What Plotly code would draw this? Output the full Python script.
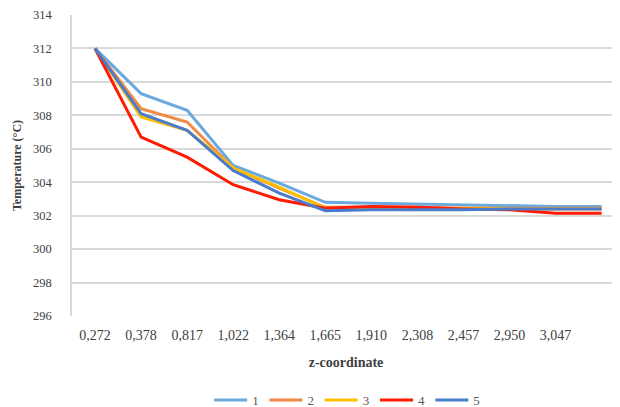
import plotly.graph_objects as go

categories = ["0,272", "0,378", "0,817", "1,022", "1,364", "1,665", "1,910",
              "2,308", "2,457", "2,950", "3,047", ""]
series_names = ["1", "2", "3", "4", "5"]
s1 = [312.0, 309.3, 308.3, 305.0, 303.95, 302.8, 302.75, 302.7, 302.65, 302.6, 302.55, 302.55]
s2 = [312.0, 308.4, 307.6, 304.85, 303.65, 302.5, 302.5, 302.5, 302.45, 302.45, 302.45, 302.45]
s3 = [312.0, 307.9, 307.1, 304.85, 303.7, 302.45, 302.45, 302.45, 302.45, 302.4, 302.4, 302.4]
s4 = [312.0, 306.7, 305.5, 303.85, 302.95, 302.45, 302.55, 302.5, 302.4, 302.35, 302.15, 302.15]
s5 = [312.0, 308.1, 307.1, 304.7, 303.35, 302.3, 302.35, 302.35, 302.35, 302.4, 302.4, 302.4]
y_ticks = [296, 298, 300, 302, 304, 306, 308, 310, 312, 314]

colors = ["#6AA9DE", "#F08A45", "#FFC000", "#FF1A00", "#4A7CCB"]
data = [s1, s2, s3, s4, s5]

idx = list(range(len(categories)))
fig = go.Figure()
for name, vals, col in zip(series_names, data, colors):
    fig.add_trace(go.Scatter(x=idx, y=vals, mode="lines", name=name,
                             line=dict(color=col, width=3)))

fig.update_layout(
    width=612, height=399,
    margin=dict(l=64, r=0, t=7, b=91, autoexpand=False),
    paper_bgcolor="white", plot_bgcolor="white",
    font=dict(family="Liberation Serif", size=12.5, color="#404040"),
    showlegend=True,
    legend=dict(orientation="h", x=0.503, xanchor="center", y=-0.279, yanchor="middle",
                font=dict(size=13, color="#595959"), itemwidth=33,
                entrywidth=7.3, entrywidthmode="pixels", tracegroupgap=0),
)
fig.update_xaxes(
    range=[-0.5, 11.4], automargin=False,
    tickmode="array", tickvals=idx[:-1], ticktext=categories[:-1],
    tickfont=dict(size=14),
    showgrid=False, zeroline=False,
    showline=False,
    ticks="", ticklabelstandoff=9,
    title=dict(text="<b>z-coordinate</b>", font=dict(size=14, color="#404040"), standoff=15),
)
fig.update_yaxes(
    range=[296, 314], automargin=False, tickmode="array", tickvals=y_ticks,
    tickfont=dict(size=12.5),
    showgrid=True, gridcolor="#D9D9D9", gridwidth=1.5,
    zeroline=False, showline=True, linecolor="#D9D9D9", linewidth=1.5,
    ticks="", ticklabelstandoff=16,
    title=dict(text="<b>Temperature (°C)</b>", font=dict(size=12, color="#404040"), standoff=9),
)

fig.write_html("out.html")
